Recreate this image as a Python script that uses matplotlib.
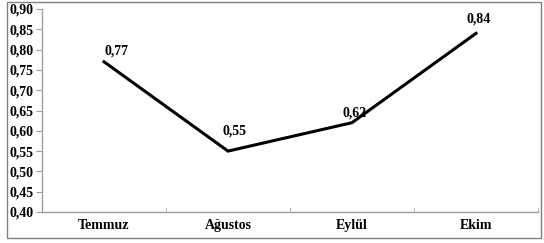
import matplotlib
matplotlib.use("Agg")
import matplotlib.pyplot as plt
from matplotlib.patches import Rectangle

categories = ["Temmuz", "Ağustos", "Eylül", "Ekim"]
values = [0.77, 0.55, 0.62, 0.84]
labels = ["0,77", "0,55", "0,62", "0,84"]
yticks = [0.40, 0.45, 0.50, 0.55, 0.60, 0.65, 0.70, 0.75, 0.80, 0.85, 0.90]
ytick_labels = ["0,40", "0,45", "0,50", "0,55", "0,60", "0,65", "0,70", "0,75", "0,80", "0,85", "0,90"]

# label offsets in points (style)
label_offsets = [(9, 3), (5, 10), (2, 2), (2, 6)]

W, H = 544, 243
fig = plt.figure(figsize=(W / 100, H / 100), dpi=100)
plt.rcParams['font.family'] = ['Liberation Serif', 'DejaVu Serif']
fs = 10

ax = fig.add_axes([42 / W, 1 - 212 / H, (538 - 42) / W, (212 - 9) / H])
x = list(range(len(categories)))
ax.plot(x, values, color="black", lw=2.2, solid_joinstyle="miter")
ax.set_xlim(-0.5, len(categories) - 0.5)
ax.set_ylim(0.40, 0.90)
ax.set_yticks(yticks)
ax.set_yticklabels(ytick_labels, fontsize=fs, fontweight="bold")
ax.set_xticks(x)
ax.set_xticklabels(categories, fontsize=fs, fontweight="bold")
ax.set_xticks([i + 0.5 for i in range(len(categories))], minor=True)
ax.tick_params(axis="x", which="major", length=0, pad=5)
ax.tick_params(axis="x", which="minor", length=3, color="#a0a0a0", direction="in")
ax.tick_params(axis="y", length=4, color="#a0a0a0", pad=2)
for s in ["top", "right"]:
    ax.spines[s].set_visible(False)
for s in ["left", "bottom"]:
    ax.spines[s].set_color("#a0a0a0")
    ax.spines[s].set_linewidth(1)

for xi, v, lab, off in zip(x, values, labels, label_offsets):
    ax.annotate(lab, (xi, v), xytext=off, textcoords="offset points",
                ha="center", va="bottom", fontsize=fs, fontweight="bold")

fig.patches.append(Rectangle((7 / W, 1 - 238 / H), (541 - 7) / W, (238 - 2) / H,
                             transform=fig.transFigure, fill=False,
                             edgecolor="#808080", lw=1))

fig.savefig("out.png", dpi=100)
